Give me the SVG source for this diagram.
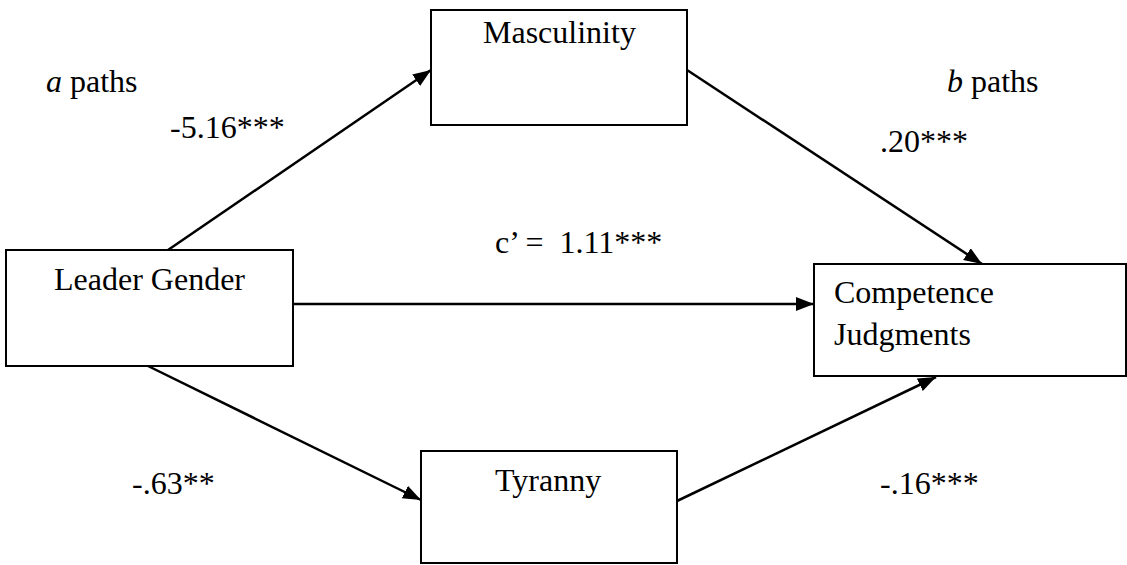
<svg xmlns="http://www.w3.org/2000/svg" width="1127" height="565" viewBox="0 0 1127 565">
<defs>
<style>
.box{fill:#fff;stroke:#000;stroke-width:2}
.t{font-size:32px;fill:#000}
.c{stroke:#000;stroke-width:2.5;fill:none;marker-end:url(#ah)}
</style>
<marker id="ah" markerUnits="userSpaceOnUse" markerWidth="20" markerHeight="16" refX="18" refY="7" orient="auto">
<path d="M0,0 L18,7 L0,14 z" fill="#000"/>
</marker>
</defs>
<rect width="1127" height="565" fill="#fff"/>
<g id="connectors">
<line class="c" x1="168" y1="250" x2="431" y2="70"/>
<line class="c" x1="687" y1="70" x2="982" y2="264"/>
<line class="c" x1="293" y1="304" x2="814" y2="304"/>
<line class="c" x1="146" y1="365" x2="421" y2="500"/>
<line class="c" x1="677" y1="501" x2="936" y2="377"/>
</g>
<g font-family="'Liberation Serif', 'DejaVu Serif', serif">
<g id="masculinity">
<rect class="box" x="431" y="10" width="256" height="115"/>
<text class="t" x="483" y="43">Masculinity</text>
</g>
<g id="leader-gender">
<rect class="box" x="6" y="250" width="287" height="116"/>
<text class="t" x="54" y="290">Leader Gender</text>
</g>
<g id="competence">
<rect class="box" x="814" y="264" width="312" height="112"/>
<text class="t" x="834" y="303">Competence</text>
<text class="t" x="834" y="345">Judgments</text>
</g>
<g id="tyranny">
<rect class="box" x="421" y="451" width="256" height="112"/>
<text class="t" x="495" y="491">Tyranny</text>
</g>
<g id="labels">
<text class="t" x="46" y="92"><tspan font-style="italic">a</tspan> paths</text>
<text class="t" x="947" y="92"><tspan font-style="italic">b</tspan> paths</text>
<text class="t" x="170" y="138">-5.16***</text>
<text class="t" x="880" y="152">.20***</text>
<text class="t" x="495" y="253" xml:space="preserve">c’ =  1.11***</text>
<text class="t" x="132" y="494">-.63**</text>
<text class="t" x="880" y="494">-.16***</text>
</g>
</g>
</svg>
